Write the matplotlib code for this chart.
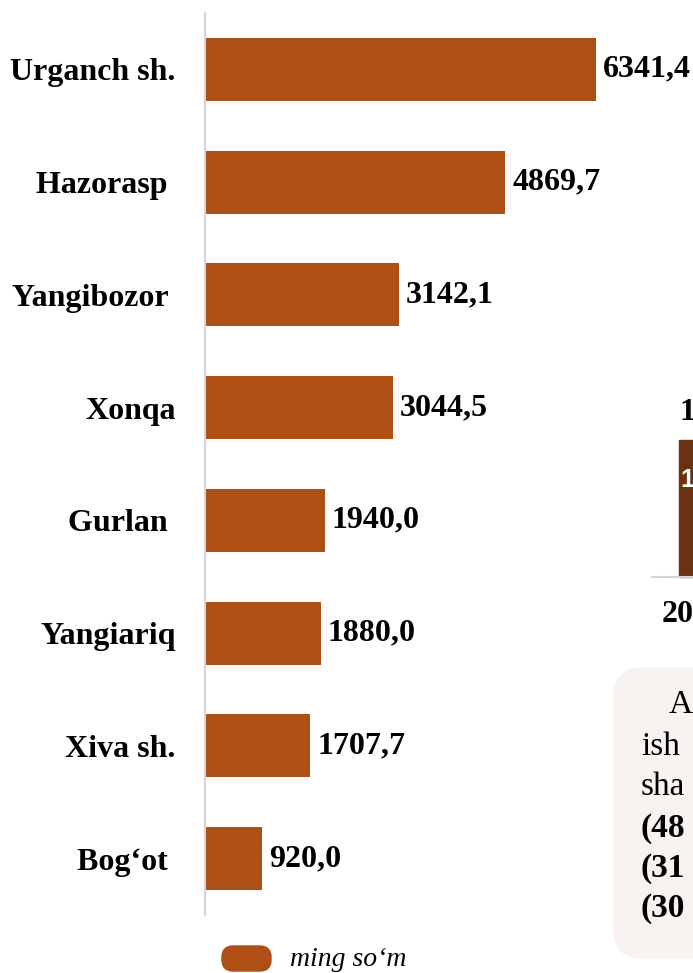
import matplotlib.pyplot as plt
from matplotlib.patches import FancyBboxPatch, Rectangle
from matplotlib.lines import Line2D

districts = ["Urganch sh.", "Hazorasp ", "Yangibozor ", "Xonqa", "Gurlan ",
             "Yangiariq", "Xiva sh.", "Bog‘ot "]
values = [6341.4, 4869.7, 3142.1, 3044.5, 1940.0, 1880.0, 1707.7, 920.0]
value_labels = ["6341,4", "4869,7", "3142,1", "3044,5", "1940,0",
                "1880,0", "1707,7", "920,0"]
legend_label = "ming so‘m"

bar_color = "#AF4E15"
serif = "Liberation Serif"

W, H = 693, 973
fig = plt.figure(figsize=(W / 100, H / 100), dpi=100)

# main axes: axis line at x=205px, spans y 13..915 px
ax = fig.add_axes([205 / W, (H - 915) / H, (W - 205) / W, 902 / H])
ypos = list(range(len(districts)))
ax.barh(ypos, values, height=0.56, color=bar_color)
ax.set_ylim(len(districts) - 0.5, -0.5)
ax.set_xlim(0, 488 / (391 / 6341.4))

for y, v, lab in zip(ypos, values, value_labels):
    ax.annotate(lab, (v, y), xytext=(5, 0), textcoords="offset points",
                va="center", ha="left", fontsize=23, fontweight="bold",
                family=serif, annotation_clip=False)

ax.set_yticks(ypos)
ax.set_yticklabels(districts, fontsize=23, fontweight="bold", family=serif)
ax.tick_params(axis="y", length=0, pad=21)
ax.set_xticks([])
for s in ["top", "right", "bottom"]:
    ax.spines[s].set_visible(False)
ax.spines["left"].set_color("#D4D4D4")
ax.spines["left"].set_linewidth(1.5)

# legend pill
fig.patches.append(FancyBboxPatch((222 / W, (H - 971) / H), 49 / W, 25 / H,
                                  boxstyle="round,pad=0,rounding_size=0.016",
                                  transform=fig.transFigure, color=bar_color,
                                  mutation_aspect=W / H))
fig.text(290 / W, (H - 960) / H, legend_label, fontsize=20, style="italic",
         family=serif, va="center", ha="left")

# fragments of the neighbouring chart on the right
fig.patches.append(Rectangle((679 / W, (H - 577) / H), 20 / W, 137 / H,
                             transform=fig.transFigure, color="#6B3212"))
fig.lines.append(Line2D([652 / W, 1], [(H - 577) / H] * 2,
                        transform=fig.transFigure, color="#D4D4D4", lw=1.5))
fig.text(679 / W, (H - 412) / H, "1", fontsize=23, fontweight="bold",
         family=serif, va="center", ha="left")
fig.text(680 / W, (H - 480) / H, "1", fontsize=18, fontweight="bold",
         family="Liberation Sans", color="white", va="center", ha="left")
fig.text(662 / W, (H - 615) / H, "20", fontsize=23, fontweight="bold",
         family=serif, va="center", ha="left")

# text box fragment
fig.patches.append(FancyBboxPatch((614 / W, (H - 958) / H), 120 / W, 290 / H,
                                  boxstyle="round,pad=0,rounding_size=0.04",
                                  transform=fig.transFigure, color="#F8F3F1",
                                  mutation_aspect=W / H))
box_lines = [("A", 669, 705, "normal"), ("ish", 641, 747, "normal"),
             ("sha", 641, 787, "normal"), ("(48", 641, 828, "bold"),
             ("(31", 641, 868, "bold"), ("(30", 641, 908, "bold")]
for txt, x, y, w in box_lines:
    fig.text(x / W, (H - y) / H, txt, fontsize=24, fontweight=w,
             family=serif, va="center", ha="left")

fig.savefig("out.png", dpi=100)
